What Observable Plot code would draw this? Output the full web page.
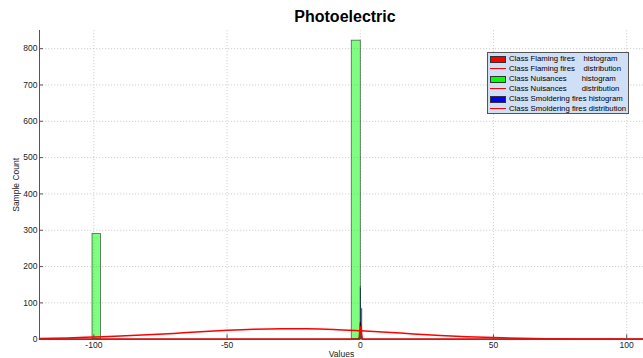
<!DOCTYPE html>
<html><head><meta charset="utf-8">
<script src="https://cdn.jsdelivr.net/npm/d3@7"></script>
<script src="https://cdn.jsdelivr.net/npm/@observablehq/plot@0.6"></script>
<style>
body{margin:0;background:#fff;font-family:"Liberation Sans",Arial,sans-serif;}
#wrap{position:relative;width:643px;height:358px;overflow:hidden;}
#title{position:absolute;top:8px;left:0;width:690px;text-align:center;font-weight:bold;font-size:16px;color:#000;}
#legend{position:absolute;left:487px;top:52px;width:142px;height:62px;background:#cfdff6;border:1px solid #555;box-sizing:border-box;}
.row{position:absolute;left:0;width:140px;height:10px;}
.sw{position:absolute;left:2px;top:1.5px;width:16px;height:7px;box-sizing:border-box;border:1px solid #333;}
.ln{position:absolute;left:2px;top:4px;width:16px;height:0;border-top:1.5px solid red;}
.tx{position:absolute;left:21px;top:0;font-size:7.75px;line-height:10px;white-space:pre;color:#000;}
</style></head>
<body>
<div id="wrap">
<div id="chart"></div>
<div id="title">Photoelectric</div>
<div id="legend"></div>
</div>
<script>
// axis settings
const xDomain = [-120.4, 106.3];
const yDomain = [0, 850];
const xTicks = [-100, -50, 0, 50, 100];
const yTicks = [0, 100, 200, 300, 400, 500, 600, 700, 800];

// Class Flaming fires histogram (bins start/end, counts)
const flamBinStart = [0.05];
const flamBinEnd = [0.3];
const flamCounts = [40];
// Class Flaming fires distribution
const flamDistX = [-120.4, -0.8, -0.4, 0, 0.4, 0.8, 106.3];
const flamDistY = [0, 0, 8, 46, 8, 0, 0];

// Class Nuisances histogram
const nuisBinStart = [-100.5, -3.2];
const nuisBinEnd = [-97.3, 0.2];
const nuisCounts = [290, 822];
// Class Nuisances distribution
const nuisDistX = [-120.4, -110, -100, -90, -80, -70, -60, -50, -40, -30, -20, -10, 0, 10, 20, 30, 40, 50, 60, 70, 80, 90, 100, 106.3];
const nuisDistY = [2, 3.5, 6, 8.5, 12, 16, 20.5, 24.5, 27.5, 29, 28.5, 26.5, 23, 19, 14.5, 10.5, 7, 4.5, 2.7, 1.5, 0.8, 0.4, 0.2, 0.1];

// Class Smoldering fires histogram
const smolBinStart = [0.1, 0.55];
const smolBinEnd = [0.35, 0.8];
const smolCounts = [143, 84];
// Class Smoldering fires distribution
const smolDistX = [-120.4, -0.3, 0.2, 0.7, 106.3];
const smolDistY = [0, 0, 34, 0, 0];

// legend
const legendLabels = [
  "Class Flaming fires    histogram",
  "Class Flaming fires    distribution",
  "Class Nuisances       histogram",
  "Class Nuisances       distribution",
  "Class Smoldering fires histogram",
  "Class Smoldering fires distribution"
];
const legendKinds = ["rect", "line", "rect", "line", "rect", "line"];
const legendColors = ["#ff0000", "#ff0000", "#00ff00", "#ff0000", "#0000ff", "#ff0000"];

const bins = (s, e, c) => s.map((v, i) => ({x1: v, x2: e[i], y: c[i]}));
const pts = (xs, ys) => xs.map((v, i) => ({x: v, y: ys[i]}));

const gridStyle = {stroke: "#c4c4c4", strokeOpacity: 1, strokeDasharray: "1.2,1.8", strokeWidth: 0.8};

const chart = Plot.plot({
  width: 643,
  height: 358,
  marginLeft: 39,
  marginRight: 0,
  marginTop: 30,
  marginBottom: 19.3,
  style: {fontFamily: "Liberation Sans, Arial, sans-serif", fontSize: "8.5px", color: "#222", background: "#fff"},
  x: {domain: xDomain},
  y: {domain: yDomain},
  marks: [
    Plot.gridX(xTicks, gridStyle),
    Plot.gridY(yTicks.slice(1), gridStyle),
    Plot.rectY(bins(flamBinStart, flamBinEnd, flamCounts), {x1: "x1", x2: "x2", y: "y", fill: "#ff0000", fillOpacity: 0.5, stroke: "#000", strokeOpacity: 0.5, strokeWidth: 0.6}),
    Plot.line(pts(flamDistX, flamDistY), {x: "x", y: "y", stroke: "#ff0000", strokeWidth: 1.5}),
    Plot.rectY(bins(nuisBinStart, nuisBinEnd, nuisCounts), {x1: "x1", x2: "x2", y: "y", fill: "#00ff00", fillOpacity: 0.5, stroke: "#000", strokeOpacity: 0.6, strokeWidth: 0.8}),
    Plot.line(pts(nuisDistX, nuisDistY), {x: "x", y: "y", stroke: "#ff0000", strokeWidth: 1.5, curve: "monotone-x"}),
    Plot.rectY(bins(smolBinStart, smolBinEnd, smolCounts), {x1: "x1", x2: "x2", y: "y", fill: "#0000ff", fillOpacity: 0.5, stroke: "#000", strokeOpacity: 0.5, strokeWidth: 0.6}),
    Plot.line(pts(smolDistX, smolDistY), {x: "x", y: "y", stroke: "#ff0000", strokeWidth: 1.5}),
    Plot.ruleX([xDomain[0]], {stroke: "#555", strokeWidth: 1}),
    Plot.ruleY([0], {stroke: "#555", strokeWidth: 1, strokeOpacity: 0.6}),
    Plot.ruleY(yTicks, {x1: xDomain[0], x2: xDomain[0] + 1.5, stroke: "#555"}),
    Plot.ruleX(xTicks, {y1: 0, y2: 12, stroke: "#555"}),
    Plot.axisX(xTicks, {tickSize: 0, tickPadding: 3, label: "Values", labelAnchor: "center", labelArrow: "none", labelOffset: 18, tickFormat: d => String(d)}),
    Plot.axisY(yTicks, {tickSize: 0, tickPadding: 2, label: "Sample Count", labelAnchor: "center", labelArrow: "none", labelOffset: 27, tickFormat: d => String(d)})
  ]
});
document.getElementById("chart").appendChild(chart);

const lg = document.getElementById("legend");
legendLabels.forEach((t, i) => {
  const r = document.createElement("div");
  r.className = "row";
  r.style.top = (1 + i * 10) + "px";
  const s = document.createElement("div");
  s.className = legendKinds[i] === "rect" ? "sw" : "ln";
  if (legendKinds[i] === "rect") s.style.background = legendColors[i];
  else s.style.borderTopColor = legendColors[i];
  const tx = document.createElement("div");
  tx.className = "tx";
  tx.textContent = t;
  r.appendChild(s); r.appendChild(tx);
  lg.appendChild(r);
});
</script>
</body></html>
